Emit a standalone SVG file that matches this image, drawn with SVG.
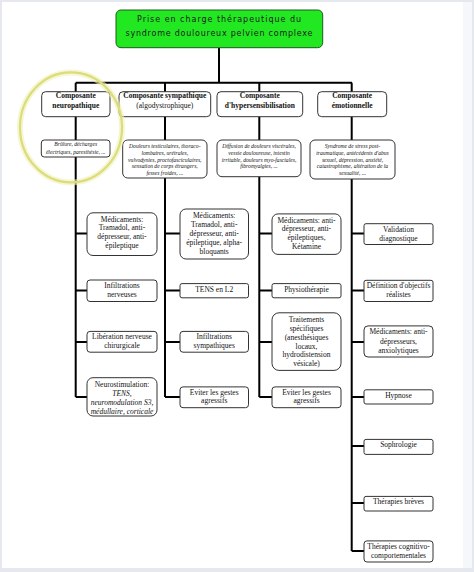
<svg xmlns="http://www.w3.org/2000/svg" width="474" height="572" viewBox="0 0 474 572">
<style>
.box{fill:#fff;stroke:#333;stroke-width:1}
.wire{stroke:#000;stroke-width:2;fill:none}
.t{font-family:"Liberation Serif","Times New Roman",serif;font-size:7.5px;text-anchor:middle;fill:#111}
.h{font-weight:bold}
.d{font-size:5.6px;font-style:italic}
.i{font-style:italic}
.ti{font-family:"DejaVu Sans",sans-serif;font-size:8px;text-anchor:middle;fill:#1a1a1a}
</style>
<rect x="0" y="0" width="474" height="572" fill="#e6e8ef"/>
<rect x="2" y="2" width="470" height="566" fill="#ffffff"/>
<rect x="463" y="2" width="9" height="566" fill="#f6f7fa"/>

<g id="connectors">
<path class="wire" d="M219,47.7V82.7M75.7,82.7H352M75.7,82.7V397M165,82.7V397M259.3,82.7V397M351.7,82.7V551"/>
<path class="wire" d="M75.7,233.6H87M75.7,290.5H87M75.7,342H87M75.7,397H87"/>
<path class="wire" d="M165,233.6H180M165,290.5H180M165,342H180M165,397H180"/>
<path class="wire" d="M259.3,233.6H272M259.3,290.5H272M259.3,342H272M259.3,397H272"/>
<path class="wire" d="M351.7,233.6H364M351.7,290.5H364M351.7,342H364M351.7,397H364M351.7,446H364M351.7,503H364M351.7,551H364"/>
</g>

<g id="title">
<rect x="116" y="10" width="206.7" height="37.7" rx="5" fill="#22e822" stroke="#1a5a1a" stroke-width="1"/>
<text class="ti" x="219" y="22" textLength="164" lengthAdjust="spacing">Prise en charge thérapeutique du</text>
<text class="ti" x="219" y="36.3" textLength="187" lengthAdjust="spacing">syndrome douloureux pelvien complexe</text>
</g>

<g id="h1"><rect class="box" x="41.7" y="91.7" width="68.3" height="25" rx="4"/>
<text class="t h" x="75.8" y="98">Composante</text><text class="t h" x="75.8" y="108">neuropathique</text></g>
<g id="h2"><rect class="box" x="119" y="91.7" width="91.7" height="25" rx="4"/>
<text class="t h" x="164.8" y="98">Composante sympathique</text><text class="t" x="164.8" y="108">(algodystrophique)</text></g>
<g id="h3"><rect class="box" x="217" y="91.7" width="85.7" height="25" rx="4"/>
<text class="t h" x="259.8" y="98">Composante</text><text class="t h" x="259.8" y="108">d'hypersensibilisation</text></g>
<g id="h4"><rect class="box" x="317.7" y="91.7" width="69" height="25" rx="4"/>
<text class="t h" x="352.2" y="98">Composante</text><text class="t h" x="352.2" y="108">émotionnelle</text></g>

<g id="d1"><rect class="box" x="41.3" y="140" width="68.7" height="17" rx="3"/>
<text class="t d" x="75.7" y="146.3">Brûlure, décharges</text><text class="t d" x="75.7" y="153.7">électriques, paresthésie, ...</text></g>
<g id="d2"><rect class="box" x="122.7" y="140" width="84.3" height="38" rx="5"/>
<text class="t d" x="164.8" y="148">Douleurs testiculaires, thoraco-</text>
<text class="t d" x="164.8" y="155">lombaires, urétrales,</text>
<text class="t d" x="164.8" y="161.6">vulvodynies, proctofasciculaires,</text>
<text class="t d" x="164.8" y="168.4">sensation de corps étrangers,</text>
<text class="t d" x="164.8" y="175.4">fesses froides, ...</text></g>
<g id="d3"><rect class="box" x="217" y="140" width="84" height="36.7" rx="5"/>
<text class="t d" x="259" y="148">Diffusion de douleurs viscérales,</text>
<text class="t d" x="259" y="155">vessie douloureuse, intestin</text>
<text class="t d" x="259" y="161.6">irritable, douleurs myo-fasciales,</text>
<text class="t d" x="259" y="168.4">fibromyalgies, ...</text></g>
<g id="d4"><rect class="box" x="310" y="140" width="85" height="39" rx="5"/>
<text class="t d" x="352.5" y="148">Syndrome de stress post-</text>
<text class="t d" x="352.5" y="155">traumatique, antécédents d'abus</text>
<text class="t d" x="352.5" y="161.6">sexuel, dépression, anxiété,</text>
<text class="t d" x="352.5" y="168.4">catastrophisme, altération de la</text>
<text class="t d" x="352.5" y="175.4">sexualité, ...</text></g>

<g id="c1a"><rect class="box" x="87" y="212.8" width="70" height="42.7" rx="6"/>
<text class="t" x="122" y="221.6">Médicaments:</text><text class="t" x="122" y="230">Tramadol, anti-</text><text class="t" x="122" y="239.1">dépresseur, anti-</text><text class="t" x="122" y="248.2">épileptique</text></g>
<g id="c1b"><rect class="box" x="87" y="280" width="70" height="21.5" rx="3"/>
<text class="t" x="122" y="288.4">Infiltrations</text><text class="t" x="122" y="296.8">nerveuses</text></g>
<g id="c1c"><rect class="box" x="87" y="331.4" width="70" height="20.8" rx="3"/>
<text class="t" x="122" y="338.7">Libération nerveuse</text><text class="t" x="122" y="348.2">chirurgicale</text></g>
<g id="c1d"><rect class="box" x="87" y="377.7" width="70" height="38.3" rx="6"/>
<text class="t" x="122" y="386.6">Neurostimulation:</text><text class="t i" x="122" y="395.6">TENS,</text><text class="t i" x="122" y="404.8">neuromodulation S3,</text><text class="t i" x="122" y="413.9">médullaire, corticale</text></g>

<g id="c2a"><rect class="box" x="180" y="209" width="68.5" height="50" rx="6"/>
<text class="t" x="214.2" y="217.9">Médicaments:</text><text class="t" x="214.2" y="226.6">Tramadol, anti-</text><text class="t" x="214.2" y="235.8">dépresseur, anti-</text><text class="t" x="214.2" y="244.9">épileptique, alpha-</text><text class="t" x="214.2" y="254.1">bloquants</text></g>
<g id="c2b"><rect class="box" x="180" y="283.6" width="68.5" height="14.2" rx="2"/>
<text class="t" x="214.2" y="291.9">TENS en L2</text></g>
<g id="c2c"><rect class="box" x="180" y="331.4" width="68.5" height="20.8" rx="3"/>
<text class="t" x="214.2" y="338.7">Infiltrations</text><text class="t" x="214.2" y="348.2">sympathiques</text></g>
<g id="c2d"><rect class="box" x="180" y="386.9" width="68.5" height="20.8" rx="3"/>
<text class="t" x="214.2" y="394.6">Eviter les gestes</text><text class="t" x="214.2" y="403.3">agressifs</text></g>

<g id="c3a"><rect class="box" x="272" y="213.9" width="69" height="40.5" rx="6"/>
<text class="t" x="306.5" y="222.6">Médicaments: anti-</text><text class="t" x="306.5" y="231.4">dépresseur, anti-</text><text class="t" x="306.5" y="240.2">épileptiques,</text><text class="t" x="306.5" y="249.3">Kétamine</text></g>
<g id="c3b"><rect class="box" x="272" y="283.6" width="69" height="14.2" rx="2"/>
<text class="t" x="306.5" y="291.9">Physiothérapie</text></g>
<g id="c3c"><rect class="box" x="272" y="312.8" width="69" height="57.6" rx="7"/>
<text class="t" x="306.5" y="321.9">Traitements</text><text class="t" x="306.5" y="330.6">spécifiques</text><text class="t" x="306.5" y="339.5">(anesthésiques</text><text class="t" x="306.5" y="348.6">locaux,</text><text class="t" x="306.5" y="357.3">hydrodistension</text><text class="t" x="306.5" y="366.1">vésicale)</text></g>
<g id="c3d"><rect class="box" x="272" y="386.9" width="69" height="20.8" rx="3"/>
<text class="t" x="306.5" y="394.6">Eviter les gestes</text><text class="t" x="306.5" y="403.3">agressifs</text></g>

<g id="c4a"><rect class="box" x="364" y="223.7" width="69" height="20.8" rx="2"/>
<text class="t" x="398.5" y="231.8">Validation</text><text class="t" x="398.5" y="240.9">diagnostique</text></g>
<g id="c4b"><rect class="box" x="364" y="280.3" width="69" height="21.2" rx="2"/>
<text class="t" x="398.5" y="288">Définition d'objectifs</text><text class="t" x="398.5" y="296.8">réalistes</text></g>
<g id="c4c"><rect class="box" x="364" y="325.9" width="69" height="31.1" rx="4"/>
<text class="t" x="398.5" y="334.4">Médicaments: anti-</text><text class="t" x="398.5" y="343.5">dépresseurs,</text><text class="t" x="398.5" y="352.6">anxiolytiques</text></g>
<g id="c4d"><rect class="box" x="364" y="389.8" width="69" height="14.2" rx="2"/>
<text class="t" x="398.5" y="397.8">Hypnose</text></g>
<g id="c4e"><rect class="box" x="364" y="439.4" width="69" height="15" rx="2"/>
<text class="t" x="398.5" y="447.2">Sophrologie</text></g>
<g id="c4f"><rect class="box" x="364" y="496.4" width="69" height="14.6" rx="2"/>
<text class="t" x="398.5" y="504.4">Thérapies brèves</text></g>
<g id="c4g"><rect class="box" x="364" y="540.9" width="69" height="21.1" rx="3"/>
<text class="t" x="398.5" y="549.3">Thérapies cognitivo-</text><text class="t" x="398.5" y="558.4">comportementales</text></g>

<g id="highlight">
<ellipse cx="71" cy="127.4" rx="51" ry="55" fill="none" stroke="#eef0b8" stroke-width="6" opacity="0.6"/>
<ellipse cx="71" cy="127.4" rx="51" ry="55" fill="none" stroke="#dcdc78" stroke-width="2.2"/>
</g>
</svg>
